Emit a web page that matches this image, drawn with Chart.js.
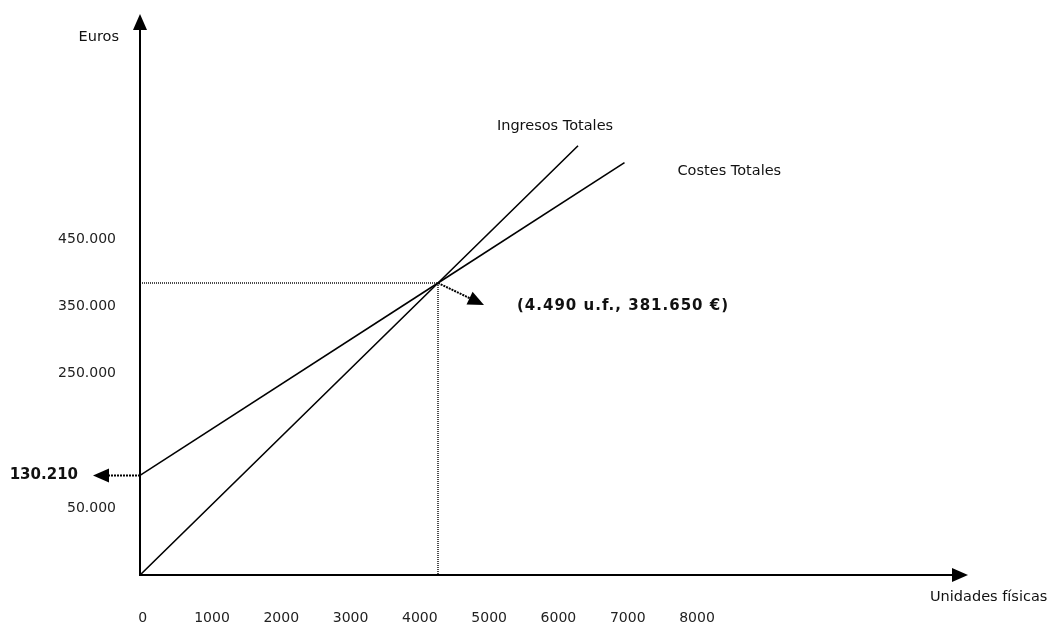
<!DOCTYPE html>
<html lang="es">
<head>
<meta charset="utf-8">
<title>Punto muerto</title>
<script src="https://cdn.jsdelivr.net/npm/chart.js@4.4.1/dist/chart.umd.min.js"></script>
<style>
  html, body { margin: 0; padding: 0; background: #fff; }
  #wrap { position: relative; width: 1048px; height: 623px; }
</style>
</head>
<body>
<div id="wrap"><canvas id="puntoMuerto"></canvas></div>
<script>
// Datos del gráfico (unidades físicas / euros)
const unidadesIngresos = [0, 4490, 6600];
const ingresosTotales = [0, 381650, 561000];
const unidadesCostes = [0, 4490, 7300];
const costesTotales = [130210, 381650, 539010];
const costeFijo = 130210;
const puntoUnidades = 4490;
const puntoEuros = 381650;

// Etiquetas de los ejes
const xTickLabels = [0, 1000, 2000, 3000, 4000, 5000, 6000, 7000, 8000];
const yTickLabels = [50000, 250000, 350000, 450000];

const FUENTE = "'DejaVu Sans', Verdana, sans-serif";

function formatoEuros(v) {
    return v.toString().replace(/\B(?=(\d{3})+(?!\d))/g, ".");
}

function toPoints(xs, ys) {
    return xs.map((x, i) => ({ x: x, y: ys[i] }));
}

// punta de flecha rellena en (x2, y2)
function flecha(ctx, x1, y1, x2, y2, len, half) {
    const a = Math.atan2(y2 - y1, x2 - x1);
    const bx = x2 - len * Math.cos(a);
    const by = y2 - len * Math.sin(a);
    ctx.beginPath();
    ctx.moveTo(x2, y2);
    ctx.lineTo(bx + half * Math.sin(a), by - half * Math.cos(a));
    ctx.lineTo(bx - half * Math.sin(a), by + half * Math.cos(a));
    ctx.closePath();
    ctx.fill();
}

// flecha punteada de (x1,y1) a (x2,y2)
function flechaPunteada(ctx, x1, y1, x2, y2) {
    const a = Math.atan2(y2 - y1, x2 - x1);
    ctx.save();
    ctx.lineWidth = 2;
    ctx.setLineDash([2, 1]);
    ctx.beginPath();
    ctx.moveTo(x1, y1);
    ctx.lineTo(x2 - 14 * Math.cos(a), y2 - 14 * Math.sin(a));
    ctx.stroke();
    ctx.restore();
    flecha(ctx, x1, y1, x2, y2, 16, 7);
}

// quitar el relleno automático que Chart.js reserva para las etiquetas
function sinRelleno(scale) {
    scale.paddingTop = 0;
    scale.paddingBottom = 0;
    scale.paddingLeft = 0;
    scale.paddingRight = 0;
}

const anotaciones = {
    id: "anotaciones",
    afterDatasetsDraw(chart) {
        const { ctx, chartArea, scales } = chart;
        const sx = scales.x;
        const sy = scales.y;
        const x0 = sx.getPixelForValue(0);
        const y0 = sy.getPixelForValue(0);

        ctx.save();
        ctx.strokeStyle = "#000";
        ctx.fillStyle = "#000";

        // ejes con flechas
        ctx.lineWidth = 2;
        ctx.beginPath();
        ctx.moveTo(x0, y0 + 1);
        ctx.lineTo(x0, chartArea.top + 12);
        ctx.moveTo(x0 - 1, y0);
        ctx.lineTo(chartArea.right - 12, y0);
        ctx.stroke();
        flecha(ctx, x0, y0, x0, chartArea.top, 16, 7);
        flecha(ctx, x0, y0, chartArea.right, y0, 16, 7);

        // punto muerto
        const ix = sx.getPixelForValue(puntoUnidades);
        const iy = sy.getPixelForValue(puntoEuros);
        flechaPunteada(ctx, ix, iy, ix + 46, iy + 22);

        // coste fijo
        const cy = sy.getPixelForValue(costeFijo);
        flechaPunteada(ctx, x0, cy, x0 - 47, cy);

        // textos
        ctx.fillStyle = "#111";
        ctx.textBaseline = "middle";
        ctx.font = "14.5px " + FUENTE;
        ctx.textAlign = "right";
        ctx.fillText("Euros", x0 - 21, 37);
        ctx.textAlign = "left";
        ctx.fillText("Unidades físicas", 930, 597);

        const ri = ingresosTotales.length - 1;
        const rx = sx.getPixelForValue(unidadesIngresos[ri]);
        const ry = sy.getPixelForValue(ingresosTotales[ri]);
        ctx.textAlign = "center";
        ctx.fillText("Ingresos Totales", rx - 23, ry - 20);

        const ci = costesTotales.length - 1;
        const cx = sx.getPixelForValue(unidadesCostes[ci]);
        const cyEnd = sy.getPixelForValue(costesTotales[ci]);
        ctx.textAlign = "left";
        ctx.fillText("Costes Totales", cx + 53, cyEnd + 9);

        ctx.font = "bold 15px " + FUENTE;
        ctx.textAlign = "right";
        ctx.fillText(formatoEuros(costeFijo), 78, cy);
        ctx.textAlign = "left";
        ctx.letterSpacing = "1px";
        ctx.fillText("(" + formatoEuros(puntoUnidades) + " u.f., " + formatoEuros(puntoEuros) + " €)", ix + 79, iy + 23);
        ctx.restore();
    },
};

const lineaBase = {
    borderColor: "#000",
    borderWidth: 1.6,
    pointRadius: 0,
    tension: 0,
    fill: false,
    xAxisID: "x",
    yAxisID: "y",
};

const guia = {
    borderColor: "#000",
    borderWidth: 1.4,
    borderDash: [1, 1],
    pointRadius: 0,
    fill: false,
    xAxisID: "x",
    yAxisID: "y",
};

new Chart(document.getElementById("puntoMuerto"), {
    type: "line",
    data: {
        datasets: [
            Object.assign({ label: "Ingresos Totales", data: toPoints(unidadesIngresos, ingresosTotales) }, lineaBase),
            Object.assign({ label: "Costes Totales", data: toPoints(unidadesCostes, costesTotales) }, lineaBase),
            Object.assign({ label: "guia-h", data: toPoints([0, puntoUnidades], [puntoEuros, puntoEuros]) }, guia),
            Object.assign({ label: "guia-v", data: toPoints([puntoUnidades, puntoUnidades], [puntoEuros, 0]) }, guia),
        ],
    },
    options: {
        responsive: true,
        maintainAspectRatio: false,
        animation: false,
        layout: { padding: { left: 24, right: 80, top: 14, bottom: 0 } },
        plugins: { legend: { display: false }, tooltip: { enabled: false } },
        scales: {
            x: { type: "linear", min: 0, max: 12476, display: false },
            y: { type: "linear", min: 0, max: 733240, display: false },
            // ejes solo para las etiquetas, tal como aparecen dibujadas
            xLabels: {
                type: "linear",
                position: "bottom",
                min: -39,
                max: 11911,
                grid: { display: false, drawTicks: false },
                border: { display: false },
                afterBuildTicks: (scale) => {
                    scale.ticks = xTickLabels.map((v) => ({ value: v }));
                },
                afterFit: (scale) => {
                    scale.height = 48;
                    sinRelleno(scale);
                },
                ticks: {
                    autoSkip: false,
                    maxRotation: 0,
                    minRotation: 0,
                    padding: 35,
                    color: "#222",
                    font: { family: FUENTE, size: 14 },
                    callback: (v) => String(v),
                },
            },
            yLabels: {
                type: "linear",
                position: "left",
                min: -49702,
                max: 785119,
                grid: { display: false, drawTicks: false },
                border: { display: false },
                afterBuildTicks: (scale) => {
                    scale.ticks = yTickLabels.map((v) => ({ value: v }));
                },
                afterFit: (scale) => {
                    scale.width = 116;
                    sinRelleno(scale);
                },
                ticks: {
                    autoSkip: false,
                    padding: 24,
                    color: "#222",
                    font: { family: FUENTE, size: 14 },
                    callback: (v) => formatoEuros(v),
                },
            },
        },
    },
    plugins: [anotaciones],
});
</script>
</body>
</html>
